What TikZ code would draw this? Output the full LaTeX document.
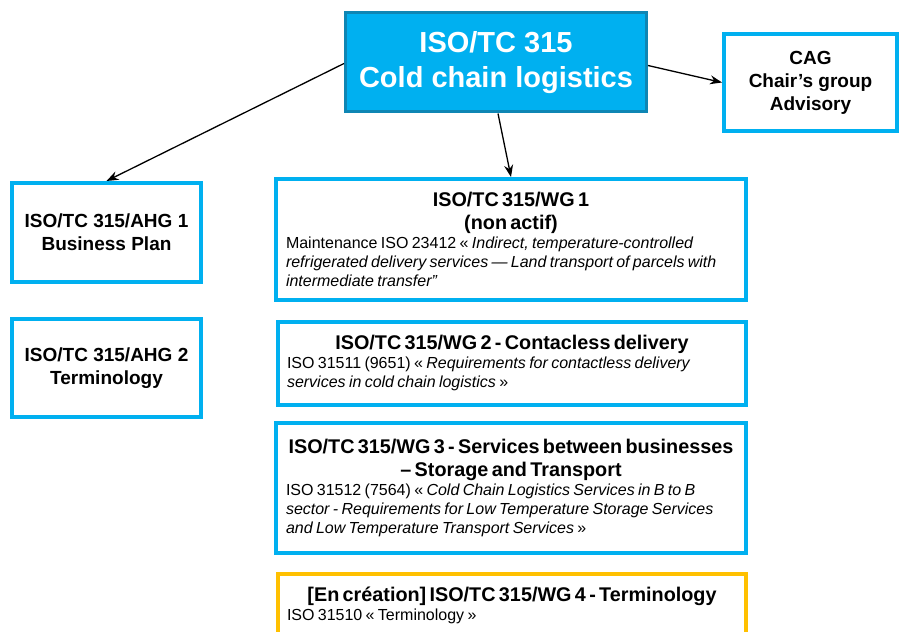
\documentclass[tikz,border=0pt]{standalone}
\usepackage{fontspec}
\setmainfont{Liberation Sans}
\usetikzlibrary{arrows.meta}

\definecolor{isoblue}{HTML}{00B0F0}
\definecolor{isoedge}{HTML}{0E86B4}
\definecolor{isoyellow}{HTML}{FFC000}

\tikzset{
  box/.style={draw=isoblue, line width=4pt, rectangle, inner sep=0pt},
  grp/.style={box, font=\fontsize{19}{23}\selectfont\bfseries, align=center},
  wgbox/.style={box, text width=#1, inner xsep=0pt},
  link/.style={-{Stealth[length=12pt,width=9pt]}, line width=1.3pt}
}

\newcommand{\wgtitle}[1]{{\centering\fontsize{19.8}{23}\selectfont\bfseries #1\par}}
\newcommand{\wgbody}[1]{{\raggedright\fontsize{16}{19}\selectfont #1\par}}

\begin{document}
\begin{tikzpicture}[x=1pt, y=-1pt]
    \clip (0,0) rectangle (901,631);

    % top level
    \node[box, fill=isoblue, draw=isoedge, line width=3pt,
          minimum width=301pt, minimum height=99pt,
          text=white, font=\fontsize{29}{35}\selectfont\bfseries, align=center]
          (tc) at (496,62.5) {ISO/TC 315\\Cold chain logistics};

    \node[grp, minimum width=173pt, minimum height=97pt] (cag) at (810.5,82.5)
          {CAG\\Chair’s group\\Advisory};

    % ad hoc groups
    \node[grp, minimum width=189pt, minimum height=99pt] (ahg1) at (106.5,232.5)
          {ISO/TC 315/AHG 1\\Business Plan};
    \node[grp, minimum width=189pt, minimum height=98pt] (ahg2) at (106.5,368)
          {ISO/TC 315/AHG 2\\Terminology};

    % working groups
    \node[wgbox=450pt, minimum width=470pt, minimum height=121pt] (wg1) at (511,239.5) {%
      \wgtitle{ISO/TC 315/WG 1\\(non actif)}%
      \wgbody{Maintenance ISO 23412 « \textit{Indirect, temperature-controlled}\\
        \textit{refrigerated delivery services — Land transport of parcels with}\\
        \textit{intermediate transfer”}}};

    \node[wgbox=450pt, minimum width=468pt, minimum height=83pt] (wg2) at (512,363) {%
      \wgtitle{ISO/TC 315/WG 2 - Contacless delivery}%
      \wgbody{ISO 31511 (9651) « \textit{Requirements for contactless delivery}\\
        \textit{services in cold chain logistics} »}};

    \node[wgbox=450pt, minimum width=470pt, minimum height=130pt] (wg3) at (511,488) {%
      \wgtitle{ISO/TC 315/WG 3 - Services between businesses\\– Storage and Transport}%
      \wgbody{ISO 31512 (7564) « \textit{Cold Chain Logistics Services in B to B}\\
        \textit{sector - Requirements for Low Temperature Storage Services}\\
        \textit{and Low Temperature Transport Services} »}};

    \node[box, draw=isoyellow, minimum width=468pt, minimum height=110pt,
          anchor=north] (wg4) at (512,572) {};
    \node[text width=450pt, inner sep=0pt, anchor=north] (wg4txt) at (512,587) {%
      \wgtitle{[En création] ISO/TC 315/WG 4 - Terminology}%
      \wgbody{ISO 31510 « Terminology »}};

    % connectors
    \draw[link] (tc.west) ++(0,1) -- (ahg1.north);
    \draw[link] (tc.east) ++(0,3) -- (cag.west);
    \draw[link] (tc.south) ++(2,0) -- (wg1.north);
\end{tikzpicture}
\end{document}
